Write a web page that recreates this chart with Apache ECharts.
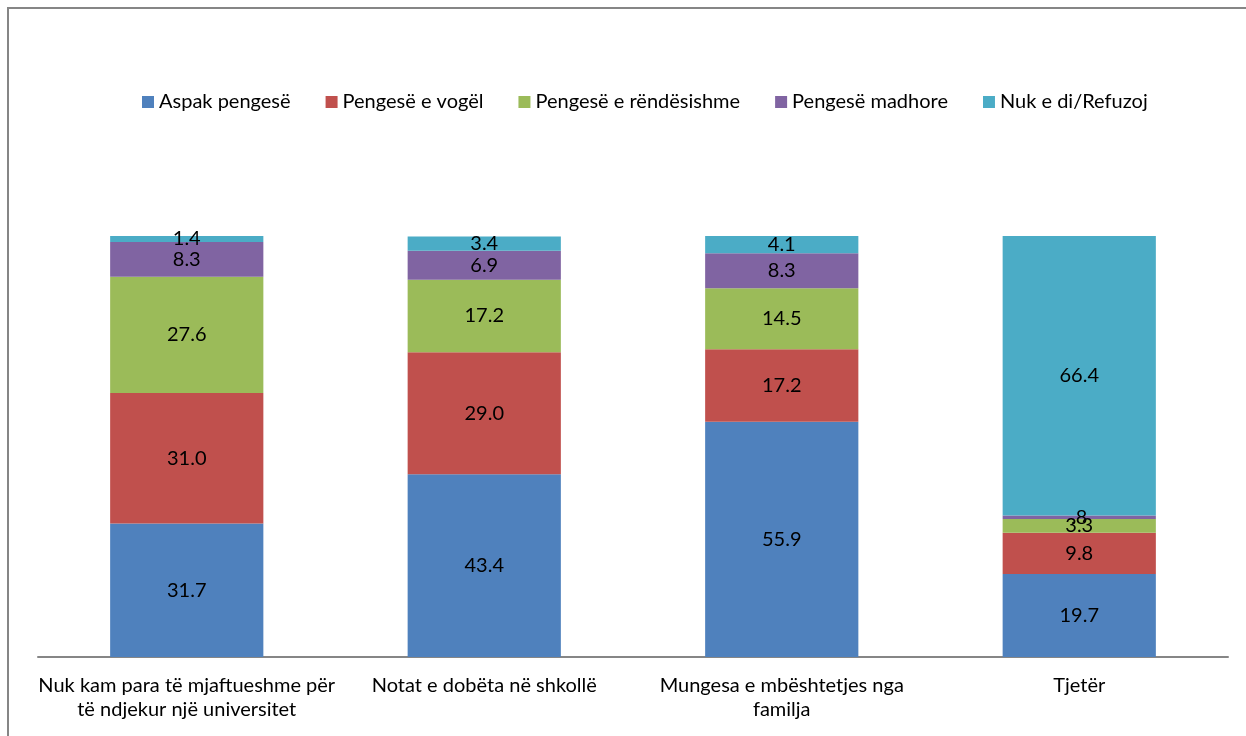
<!DOCTYPE html>
<html><head><meta charset="utf-8">
<script src="https://cdn.jsdelivr.net/npm/echarts@6/dist/echarts.min.js"></script>
<style>html,body{margin:0;padding:0;background:#fff}#c{width:1246px;height:736px}</style>
</head><body><div id="c"></div>
<script>
const categories = ['Nuk kam para të mjaftueshme për\ntë ndjekur një universitet', 'Notat e dobëta në shkollë', 'Mungesa e mbështetjes nga\nfamilja', 'Tjetër'];
const seriesNames = ['Aspak pengesë', 'Pengesë e vogël', 'Pengesë e rëndësishme', 'Pengesë madhore', 'Nuk e di/Refuzoj'];
const aspak = [31.7, 43.4, 55.9, 19.7];
const vogel = [31.0, 29.0, 17.2, 9.8];
const rendesishme = [27.6, 17.2, 14.5, 3.3];
const madhore = [8.3, 6.9, 8.3, 0.8];
const nukEDi = [1.4, 3.4, 4.1, 66.4];
const colors = ['#4F81BD', '#C0504D', '#9BBB59', '#8064A2', '#4BACC6'];
const font = 'Lato, "Open Sans", sans-serif';

const chart = echarts.init(document.getElementById('c'), null, {renderer: 'canvas'});
const data = [aspak, vogel, rendesishme, madhore, nukEDi];
chart.setOption({
  animation: false,
  color: colors,
  graphic: [{type: 'rect', shape: {x: 8, y: 8, width: 1400, height: 900}, style: {fill: 'none', stroke: '#868686', lineWidth: 2}, silent: true}],
  legend: {
    top: 87, left: 137, itemWidth: 12, itemHeight: 12, itemGap: 35,
    icon: 'rect',
    textStyle: {fontFamily: font, fontSize: 20, color: '#000'}
  },
  grid: {left: 38, right: 18, top: 236, bottom: 79},
  xAxis: {
    type: 'category', data: categories,
    axisLine: {lineStyle: {color: '#868686', width: 2}},
    axisTick: {show: false},
    axisLabel: {fontFamily: font, fontSize: 20, color: '#000', margin: 17, lineHeight: 24, interval: 0}
  },
  yAxis: {type: 'value', min: 0, max: 100, show: false, splitLine: {show: false}},
  series: seriesNames.map((n, i) => ({
    name: n, type: 'bar', stack: 'total', barWidth: '51.5%',
    data: data[i],
    label: {
      show: true, position: 'inside', color: '#000', fontFamily: font, fontSize: 20,
      formatter: p => { let s = p.value.toFixed(1); return p.value < 1 ? s.replace(/^0/, '') : s; }
    }
  }))
});
</script></body></html>
